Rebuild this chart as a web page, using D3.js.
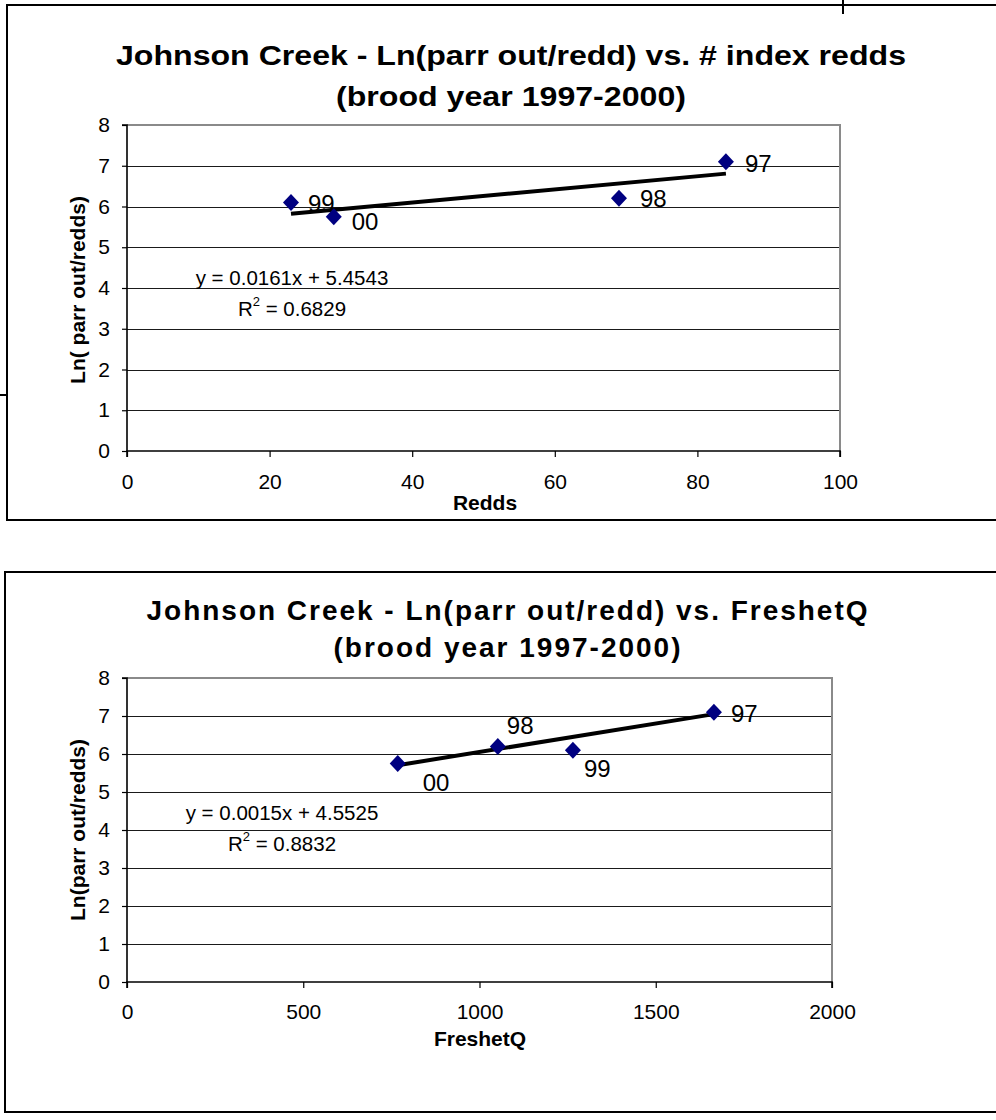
<!DOCTYPE html>
<html><head><meta charset="utf-8">
<script src="https://cdn.jsdelivr.net/npm/d3@7"></script>
<style>
body{margin:0;background:#fff}
svg{display:block}
text{font-family:"Liberation Sans",Arial,sans-serif;fill:#000}
</style>
</head><body>
<svg id="c" width="996" height="1120"></svg>
<script>
// ---- data ----
const years = ["97", "98", "99", "00"];
const lnParrPerRedd = [7.1, 6.2, 6.1, 5.75];
const redds = [84, 69, 23, 29];
const freshetQ = [1665, 1052, 1265, 768];
const yTicks = [0, 1, 2, 3, 4, 5, 6, 7, 8];
const reddsTicks = [0, 20, 40, 60, 80, 100];
const freshetTicks = [0, 500, 1000, 1500, 2000];
const reddsFit = {slope: 0.0161, intercept: 5.4543, r2: 0.6829};
const freshetFit = {slope: 0.0015, intercept: 4.5525, r2: 0.8832};
const titles1 = ["Johnson Creek - Ln(parr out/redd) vs. # index redds", "(brood year 1997-2000)"];
const titles2 = ["Johnson Creek - Ln(parr out/redd) vs. FreshetQ", "(brood year 1997-2000)"];

const svg = d3.select("#c");

function chart(cfg) {
  const g = svg.append("g");
  // outer frame
  g.append("path").attr("d", `M1000,${cfg.frame.top}H${cfg.frame.left}V${cfg.frame.bottom}H1000`)
    .attr("fill", "none").attr("stroke", "#000").attr("stroke-width", 2);

  const x = d3.scaleLinear().domain(cfg.xDomain).range([cfg.plot.left, cfg.plot.right]);
  const y = d3.scaleLinear().domain([0, 8]).range([cfg.plot.bottom, cfg.plot.top]);

  // titles
  cfg.titles.forEach((t, i) => {
    g.append("text").attr("x", cfg.titleX).attr("y", cfg.titleY[i])
      .attr("text-anchor", "middle").attr("font-size", cfg.titleSize).attr("font-weight", "bold")
      .attr("textLength", cfg.titleLen[i]).attr("lengthAdjust", cfg.titleAdjust)
      .text(t);
  });

  // gridlines
  g.append("g").selectAll("line").data(yTicks.filter(d => d > 0 && d < 8)).join("line")
    .attr("x1", cfg.plot.left).attr("x2", cfg.plot.right)
    .attr("y1", d => Math.round(y(d)) + 0.5).attr("y2", d => Math.round(y(d)) + 0.5)
    .attr("stroke", "#1a1a1a").attr("stroke-width", 1);

  // plot border top/right (gray)
  g.append("path")
    .attr("d", `M${cfg.plot.left},${cfg.plot.top}H${cfg.plot.right}V${cfg.plot.bottom}`)
    .attr("fill", "none").attr("stroke", "#8a8a8a").attr("stroke-width", 2);

  // axes
  const ya = d3.axisLeft(y).tickValues(yTicks).tickSize(5).tickPadding(12).tickFormat(d3.format("d"));
  const yg = g.append("g").attr("transform", `translate(${cfg.plot.left},0)`).call(ya);
  const xa = d3.axisBottom(x).tickValues(cfg.xTicks).tickSize(6).tickPadding(cfg.xPad).tickFormat(d3.format("d"));
  const xg = g.append("g").attr("transform", `translate(0,${cfg.plot.bottom})`).call(xa);
  [yg, xg].forEach(a => {
    a.select(".domain").attr("stroke", "#000").attr("stroke-width", 1.6);
    a.selectAll(".tick line").attr("stroke", "#000").attr("stroke-width", 1.2);
    a.selectAll(".tick text").attr("font-size", 21).attr("font-family", "'Liberation Sans',Arial,sans-serif").attr("fill", "#000");
  });
  yg.select(".domain").attr("d", `M-5,${cfg.plot.top}H0V${cfg.plot.bottom}`);
  xg.select(".domain").attr("d", `M${cfg.plot.left},6V0H${cfg.plot.right}V6`);

  // axis titles
  g.append("text").attr("transform", `translate(${cfg.yTitle[0]},${cfg.yTitle[1]}) rotate(-90)`)
    .attr("text-anchor", "middle").attr("font-size", 21).attr("font-weight", "bold").text(cfg.yLabel);
  g.append("text").attr("x", cfg.xTitle[0]).attr("y", cfg.xTitle[1])
    .attr("text-anchor", "middle").attr("font-size", 21).attr("font-weight", "bold").text(cfg.xLabel);

  // trendline
  const xs = cfg.xs;
  const xmin = d3.min(xs), xmax = d3.max(xs);
  const fit = cfg.fit;
  g.append("line")
    .attr("x1", x(xmin)).attr("y1", y(fit.intercept + fit.slope * xmin))
    .attr("x2", x(xmax)).attr("y2", y(fit.intercept + fit.slope * xmax))
    .attr("stroke", "#000").attr("stroke-width", 4);

  // points
  const pts = years.map((yr, i) => ({yr, xv: xs[i], yv: lnParrPerRedd[i], off: cfg.labelOff[i]}));
  g.append("g").selectAll("path").data(pts).join("path")
    .attr("transform", d => `translate(${x(d.xv)},${y(d.yv)})`)
    .attr("d", "M0,-8.5L8,0L0,8.5L-8,0Z").attr("fill", "#000080");
  g.append("g").selectAll("text").data(pts).join("text")
    .attr("x", d => x(d.xv) + d.off[0]).attr("y", d => y(d.yv) + d.off[1])
    .attr("font-size", 24).text(d => d.yr);

  // equation
  const eq = g.append("g");
  eq.append("text").attr("x", cfg.eqPos[0]).attr("y", cfg.eqPos[1]).attr("text-anchor", "middle")
    .attr("font-size", 20.5).text(`y = ${fit.slope}x + ${fit.intercept}`);
  const r = eq.append("text").attr("x", cfg.eqPos[0]).attr("y", cfg.eqPos[1] + 31).attr("text-anchor", "middle")
    .attr("font-size", 20.5);
  r.append("tspan").text("R");
  r.append("tspan").attr("dy", -10).attr("font-size", 13).text("2");
  r.append("tspan").attr("dy", 10).text(` = ${fit.r2}`);
}

chart({
  frame: {left: 7, top: 5, bottom: 520},
  plot: {left: 127, right: 840, top: 125, bottom: 451},
  xDomain: [0, 100], xTicks: reddsTicks, xPad: 17,
  titles: titles1, titleX: 511, titleY: [65, 106], titleSize: 28, titleLen: [790, 350], titleAdjust: "spacingAndGlyphs",
  yLabel: "Ln( parr out/redds)", yTitle: [85, 290],
  xLabel: "Redds", xTitle: [485, 510],
  xs: redds, fit: reddsFit,
  labelOff: [[19, 10], [21, 9], [17, 10], [18, 13]],
  eqPos: [292, 285]
});

chart({
  frame: {left: 5, top: 572, bottom: 1112},
  plot: {left: 127, right: 832, top: 678, bottom: 982},
  xDomain: [0, 2000], xTicks: freshetTicks, xPad: 16,
  titles: titles2, titleX: 507, titleY: [620, 657], titleSize: 28, titleLen: [721, 347], titleAdjust: "spacing",
  yLabel: "Ln(parr out/redds)", yTitle: [85, 830],
  xLabel: "FreshetQ", xTitle: [480, 1046],
  xs: freshetQ, fit: freshetFit,
  labelOff: [[17, 10], [9, -12], [11, 27], [25, 27]],
  eqPos: [282, 820]
});

// stray fragments of neighbouring page objects
svg.append("line").attr("x1", 843).attr("x2", 843).attr("y1", 0).attr("y2", 14).attr("stroke", "#000").attr("stroke-width", 2);
svg.append("line").attr("x1", 0).attr("x2", 7).attr("y1", 395).attr("y2", 395).attr("stroke", "#000").attr("stroke-width", 2);
</script>
</body></html>
